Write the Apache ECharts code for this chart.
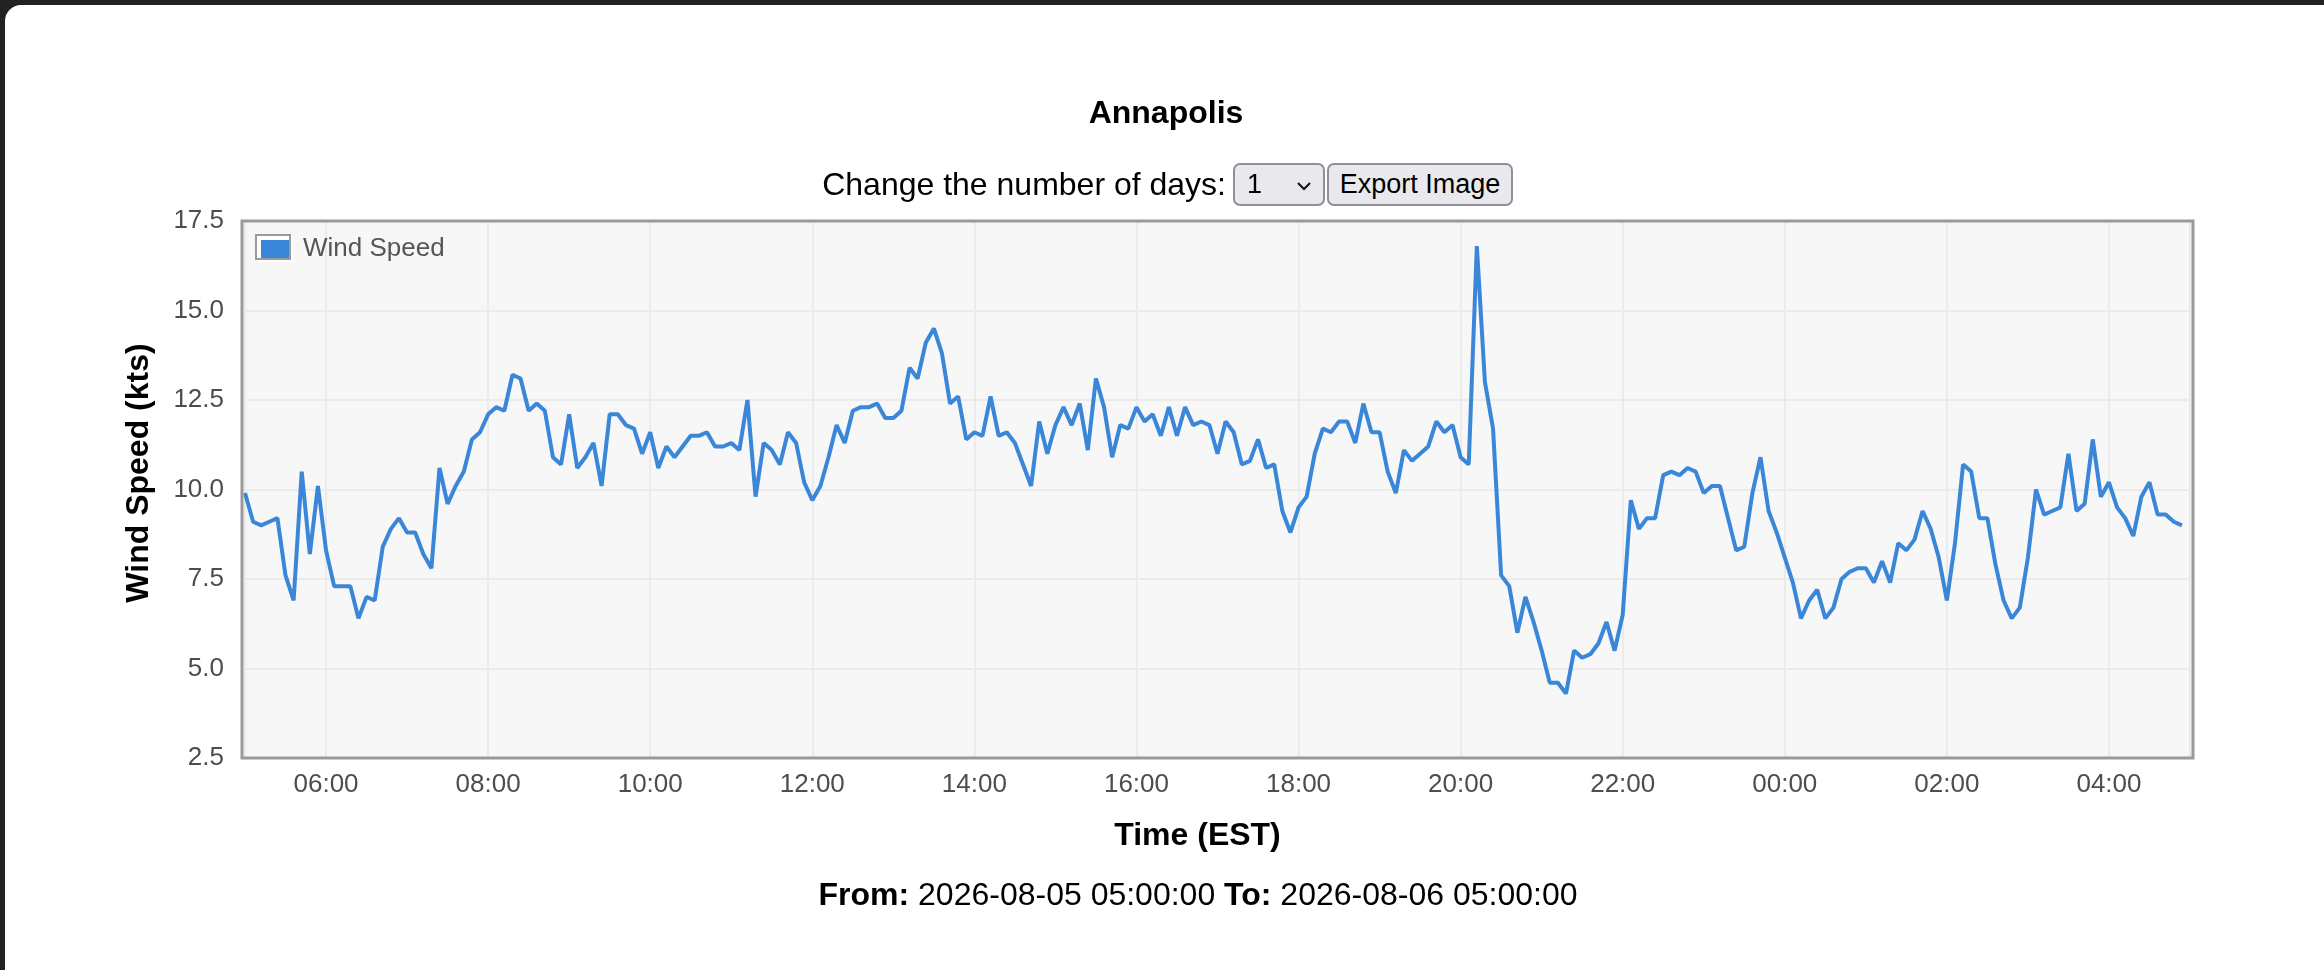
<!DOCTYPE html>
<html>
<head>
<meta charset="utf-8">
<script src="https://cdn.jsdelivr.net/npm/echarts@6/dist/echarts.min.js"></script>
<style>
html,body{margin:0;padding:0;background:#222;width:2324px;height:970px;overflow:hidden;font-family:"Liberation Sans",Arial,Helvetica,sans-serif;}
#card{position:absolute;left:5px;top:5px;width:2340px;height:1000px;background:#fff;border-radius:16px;}
#chart{position:absolute;left:0;top:0;width:2324px;height:970px;}
.ctl{position:absolute;top:163px;height:43px;box-sizing:border-box;border:2px solid #8f8f9d;border-radius:7px;background:#e9e9ed;color:#000;font-size:27px;line-height:39px;font-family:"Liberation Sans",Arial,sans-serif;}
#lbl{position:absolute;left:0;width:1226px;text-align:right;top:163px;height:43px;line-height:43px;font-size:32px;color:#000;}
</style>
</head>
<body>
<div id="card"></div>
<div id="chart"></div>
<div id="lbl">Change the number of days:</div>
<div class="ctl" style="left:1233px;width:92px;"><span style="position:absolute;left:12px;top:0;">1</span><svg style="position:absolute;left:62px;top:17px" width="14" height="9"><polyline points="1,1 7,7 13,1" fill="none" stroke="#111" stroke-width="2"/></svg></div>
<div class="ctl" style="left:1327px;width:186px;text-align:center;">Export Image</div>
<script>
const chartTitle = 'Annapolis';
const seriesName = 'Wind Speed';
const xAxisTitle = 'Time (EST)';
const yAxisTitle = 'Wind Speed (kts)';
const fromText = '2026-08-05 05:00:00';
const toText = '2026-08-06 05:00:00';
const startTime = new Date(2026, 7, 5, 5, 0, 0).getTime();
const endTime = new Date(2026, 7, 6, 5, 0, 0).getTime();
const stepMinutes = 6;
const yMin = 2.5, yMax = 17.5, yStep = 2.5;

// wind speed (kts), one row per hour, 6-minute samples starting 05:00
const windSpeed = [
  9.9, 9.1, 9.0, 9.1, 9.2, 7.6, 6.9, 10.5, 8.2, 10.1,      // 05
  8.3, 7.3, 7.3, 7.3, 6.4, 7.0, 6.9, 8.4, 8.9, 9.2,        // 06
  8.8, 8.8, 8.2, 7.8, 10.6, 9.6, 10.1, 10.5, 11.4, 11.6,   // 07
  12.1, 12.3, 12.2, 13.2, 13.1, 12.2, 12.4, 12.2, 10.9, 10.7, // 08
  12.1, 10.6, 10.9, 11.3, 10.1, 12.1, 12.1, 11.8, 11.7, 11.0, // 09
  11.6, 10.6, 11.2, 10.9, 11.2, 11.5, 11.5, 11.6, 11.2, 11.2, // 10
  11.3, 11.1, 12.5, 9.8, 11.3, 11.1, 10.7, 11.6, 11.3, 10.2,  // 11
  9.7, 10.1, 10.9, 11.8, 11.3, 12.2, 12.3, 12.3, 12.4, 12.0,  // 12
  12.0, 12.2, 13.4, 13.1, 14.1, 14.5, 13.8, 12.4, 12.6, 11.4, // 13
  11.6, 11.5, 12.6, 11.5, 11.6, 11.3, 10.7, 10.1, 11.9, 11.0, // 14
  11.8, 12.3, 11.8, 12.4, 11.1, 13.1, 12.3, 10.9, 11.8, 11.7, // 15
  12.3, 11.9, 12.1, 11.5, 12.3, 11.5, 12.3, 11.8, 11.9, 11.8, // 16
  11.0, 11.9, 11.6, 10.7, 10.8, 11.4, 10.6, 10.7, 9.4, 8.8,   // 17
  9.5, 9.8, 11.0, 11.7, 11.6, 11.9, 11.9, 11.3, 12.4, 11.6,   // 18
  11.6, 10.5, 9.9, 11.1, 10.8, 11.0, 11.2, 11.9, 11.6, 11.8,  // 19
  10.9, 10.7, 16.8, 13.0, 11.7, 7.6, 7.3, 6.0, 7.0, 6.3,      // 20
  5.5, 4.6, 4.6, 4.3, 5.5, 5.3, 5.4, 5.7, 6.3, 5.5,           // 21
  6.5, 9.7, 8.9, 9.2, 9.2, 10.4, 10.5, 10.4, 10.6, 10.5,      // 22
  9.9, 10.1, 10.1, 9.2, 8.3, 8.4, 9.9, 10.9, 9.4, 8.8,        // 23
  8.1, 7.4, 6.4, 6.9, 7.2, 6.4, 6.7, 7.5, 7.7, 7.8,           // 00
  7.8, 7.4, 8.0, 7.4, 8.5, 8.3, 8.6, 9.4, 8.9, 8.1,           // 01
  6.9, 8.5, 10.7, 10.5, 9.2, 9.2, 7.9, 6.9, 6.4, 6.7,         // 02
  8.1, 10.0, 9.3, 9.4, 9.5, 11.0, 9.4, 9.6, 11.4, 9.8,        // 03
  10.2, 9.5, 9.2, 8.7, 9.8, 10.2, 9.3, 9.3, 9.1, 9.0          // 04
];

const FONT = '"Liberation Sans", Arial, Helvetica, sans-serif';
const LINE = '#3a86d8';
const pad = n => (n < 10 ? '0' : '') + n;
const seriesData = windSpeed.map((v, i) => [startTime + i * stepMinutes * 60000, v]);

const chart = echarts.init(document.getElementById('chart'), null, {renderer: 'canvas'});
chart.setOption({
  animation: false,
  textStyle: {fontFamily: FONT},
  grid: {left: 245, top: 221, width: 1945, height: 537, show: false},
  legend: {
    left: 257, top: 236, padding: 0, icon: 'rect', itemWidth: 32, itemHeight: 22,
    selectedMode: false, data: [seriesName],
    itemStyle: {color: LINE, borderColor: '#ffffff', borderWidth: 4},
    textStyle: {fontSize: 26, color: '#555', fontFamily: FONT, padding: [8, 0, 0, 7]}
  },
  xAxis: {
    type: 'time', min: startTime, max: endTime, splitNumber: 11,
    name: xAxisTitle, nameLocation: 'middle', nameGap: 62,
    nameTextStyle: {fontSize: 32, fontWeight: 'bold', color: '#000', fontFamily: FONT, padding: [0, 40, 0, 0]},
    axisLine: {show: false}, axisTick: {show: false},
    axisLabel: {fontSize: 26, color: '#4d4d4d', margin: 14, fontFamily: FONT,
      formatter: v => { const d = new Date(v); return pad(d.getHours()) + ':' + pad(d.getMinutes()); }},
    splitLine: {show: true, lineStyle: {color: '#ebebeb', width: 2}}
  },
  yAxis: {
    type: 'value', min: yMin, max: yMax, interval: yStep,
    name: yAxisTitle, nameLocation: 'middle', nameGap: 90, nameRotate: 90,
    nameTextStyle: {fontSize: 32, fontWeight: 'bold', color: '#000', fontFamily: FONT, padding: [0, 0, 0, 33]},
    axisLine: {show: false}, axisTick: {show: false},
    axisLabel: {fontSize: 26, color: '#4d4d4d', margin: 21, fontFamily: FONT, formatter: v => v.toFixed(1)},
    splitLine: {show: true, lineStyle: {color: '#ebebeb', width: 2}}
  },
  series: [{
    name: seriesName, type: 'line', data: seriesData, showSymbol: false, symbol: 'none',
    lineStyle: {color: LINE, width: 4}, itemStyle: {color: LINE}, z: 3
  }],
  graphic: [
    {type: 'rect', z: -1, silent: true, shape: {x: 242, y: 221, width: 1951, height: 537},
     style: {fill: '#f7f7f7'}},
    {type: 'rect', z: 100, silent: true, shape: {x: 242, y: 221, width: 1951, height: 537},
     style: {fill: 'none', stroke: '#9a9a9a', lineWidth: 3}},
    {type: 'rect', z: 100, silent: true, shape: {x: 256, y: 235, width: 34, height: 24},
     style: {fill: 'none', stroke: '#9a9a9a', lineWidth: 2}},
    {type: 'text', x: 1166, y: 114, silent: true,
     style: {text: chartTitle, font: 'bold 32px ' + FONT, fill: '#000', align: 'center', verticalAlign: 'middle', textAlign: 'center', textVerticalAlign: 'middle'}},
    {type: 'text', x: 1198, y: 896, silent: true,
     style: {text: '{b|From:} ' + fromText + ' {b|To:} ' + toText, font: '32px ' + FONT, fill: '#000',
       align: 'center', verticalAlign: 'middle', textAlign: 'center', textVerticalAlign: 'middle',
       rich: {b: {fontWeight: 'bold', fontSize: 32, fontFamily: FONT, fill: '#000'}}}}
  ]
});
</script>
</body>
</html>
